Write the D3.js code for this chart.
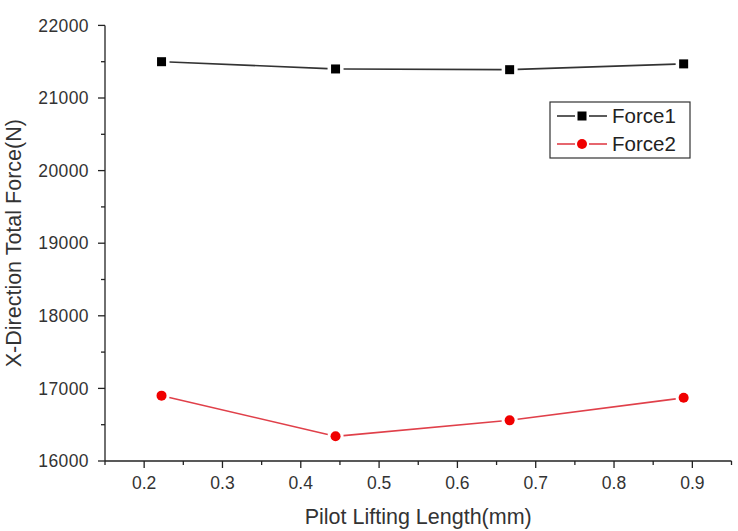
<!DOCTYPE html>
<html>
<head>
<meta charset="utf-8">
<script src="https://cdn.jsdelivr.net/npm/d3@7"></script>
<style>
  html, body { margin: 0; padding: 0; background: #fff; }
  svg { display: block; font-family: "Liberation Sans", Arial, sans-serif; }
</style>
</head>
<body>
<svg id="chart" width="738" height="531"></svg>
<script>
// ---- data ----
const xValues = [0.2222, 0.4444, 0.6667, 0.8889];
const force1 = [21500, 21400, 21390, 21470];
const force2 = [16900, 16340, 16560, 16870];
const seriesNames = ["Force1", "Force2"];
const xTicks = [0.2, 0.3, 0.4, 0.5, 0.6, 0.7, 0.8, 0.9];
const yTicks = [16000, 17000, 18000, 19000, 20000, 21000, 22000];
const xLabel = "Pilot Lifting Length(mm)";
const yLabel = "X-Direction Total Force(N)";

const svg = d3.select("#chart");
const x = d3.scaleLinear().domain([0.15, 0.95]).range([105, 731.5]);
const y = d3.scaleLinear().domain([16000, 22000]).range([461, 25.4]);

const axisColor = "#222";
const textColor = "#333";

// minor ticks
const xMinor = d3.range(0.15, 0.951, 0.05).map(v => +v.toFixed(2)).filter(v => !xTicks.some(t => Math.abs(t - v) < 1e-6));
const yMinor = d3.range(16500, 22000, 1000);

// x axis
const gx = svg.append("g").attr("transform", `translate(0,${y(16000)})`);
gx.append("line").attr("x1", x.range()[0]).attr("x2", x.range()[1]).attr("stroke", axisColor).attr("stroke-width", 1.3);
gx.selectAll(".maj").data(xTicks).join("line")
  .attr("x1", d => x(d)).attr("x2", d => x(d)).attr("y1", 0).attr("y2", 7)
  .attr("stroke", axisColor).attr("stroke-width", 1.3);
gx.selectAll(".min").data(xMinor).join("line")
  .attr("x1", d => x(d)).attr("x2", d => x(d)).attr("y1", 0).attr("y2", 4)
  .attr("stroke", axisColor).attr("stroke-width", 1.3);
gx.selectAll("text").data(xTicks).join("text")
  .attr("x", d => x(d)).attr("y", 28).attr("text-anchor", "middle")
  .attr("font-size", 17.5).attr("fill", textColor)
  .text(d => d.toFixed(1));

// y axis
const gy = svg.append("g").attr("transform", `translate(${x(0.15)},0)`);
gy.append("line").attr("y1", y.range()[0]).attr("y2", y.range()[1]).attr("stroke", axisColor).attr("stroke-width", 1.3);
gy.selectAll(".maj").data(yTicks).join("line")
  .attr("y1", d => y(d)).attr("y2", d => y(d)).attr("x1", 0).attr("x2", -7)
  .attr("stroke", axisColor).attr("stroke-width", 1.3);
gy.selectAll(".min").data(yMinor).join("line")
  .attr("y1", d => y(d)).attr("y2", d => y(d)).attr("x1", 0).attr("x2", -4)
  .attr("stroke", axisColor).attr("stroke-width", 1.3);
gy.selectAll("text").data(yTicks).join("text")
  .attr("x", -16).attr("y", d => y(d)).attr("dy", "0.35em").attr("text-anchor", "end")
  .attr("font-size", 17.5).attr("fill", textColor).attr("letter-spacing", 0.4)
  .text(d => d);

// axis titles
svg.append("text").attr("x", (x.range()[0] + x.range()[1]) / 2).attr("y", 524)
  .attr("text-anchor", "middle").attr("font-size", 21.5).attr("fill", textColor)
  .text(xLabel);
svg.append("text")
  .attr("transform", `translate(21,${(y.range()[0] + y.range()[1]) / 2}) rotate(-90)`)
  .attr("text-anchor", "middle").attr("font-size", 21.5).attr("fill", textColor)
  .text(yLabel);

// series lines with gaps around markers
function drawSeries(vals, color, lineColor, marker) {
  const pts = xValues.map((xv, i) => [x(xv), y(vals[i])]);
  const gap = 8;
  const g = svg.append("g");
  for (let i = 0; i < pts.length - 1; i++) {
    const [x1, y1] = pts[i], [x2, y2] = pts[i + 1];
    const L = Math.hypot(x2 - x1, y2 - y1);
    const ux = (x2 - x1) / L, uy = (y2 - y1) / L;
    g.append("line")
      .attr("x1", x1 + ux * gap).attr("y1", y1 + uy * gap)
      .attr("x2", x2 - ux * gap).attr("y2", y2 - uy * gap)
      .attr("stroke", lineColor).attr("stroke-width", 1.6);
  }
  pts.forEach(p => drawMarker(g, p[0], p[1], color, marker));
}
function drawMarker(g, cx, cy, color, marker) {
  if (marker === "square") {
    g.append("rect").attr("x", cx - 4.5).attr("y", cy - 4.5).attr("width", 9).attr("height", 9).attr("fill", color);
  } else {
    g.append("circle").attr("cx", cx).attr("cy", cy).attr("r", 5).attr("fill", color);
  }
}
drawSeries(force1, "#000", "#333", "square");
drawSeries(force2, "#f00000", "#e0404a", "circle");

// legend
const lg = svg.append("g");
lg.append("rect").attr("x", 550).attr("y", 102).attr("width", 140).attr("height", 56)
  .attr("fill", "#fff").attr("stroke", "#333").attr("stroke-width", 1.2);
const legendItems = [
  { name: seriesNames[0], color: "#000", line: "#333", marker: "square", yy: 116 },
  { name: seriesNames[1], color: "#f00000", line: "#e0404a", marker: "circle", yy: 144 }
];
legendItems.forEach(it => {
  lg.append("line").attr("x1", 557).attr("x2", 575).attr("y1", it.yy).attr("y2", it.yy).attr("stroke", it.line).attr("stroke-width", 1.6);
  lg.append("line").attr("x1", 589).attr("x2", 607).attr("y1", it.yy).attr("y2", it.yy).attr("stroke", it.line).attr("stroke-width", 1.6);
  drawMarker(lg, 582, it.yy, it.color, it.marker);
  lg.append("text").attr("x", 612).attr("y", it.yy).attr("dy", "0.36em")
    .attr("font-size", 20.5).attr("fill", "#222").text(it.name);
});
</script>
</body>
</html>
